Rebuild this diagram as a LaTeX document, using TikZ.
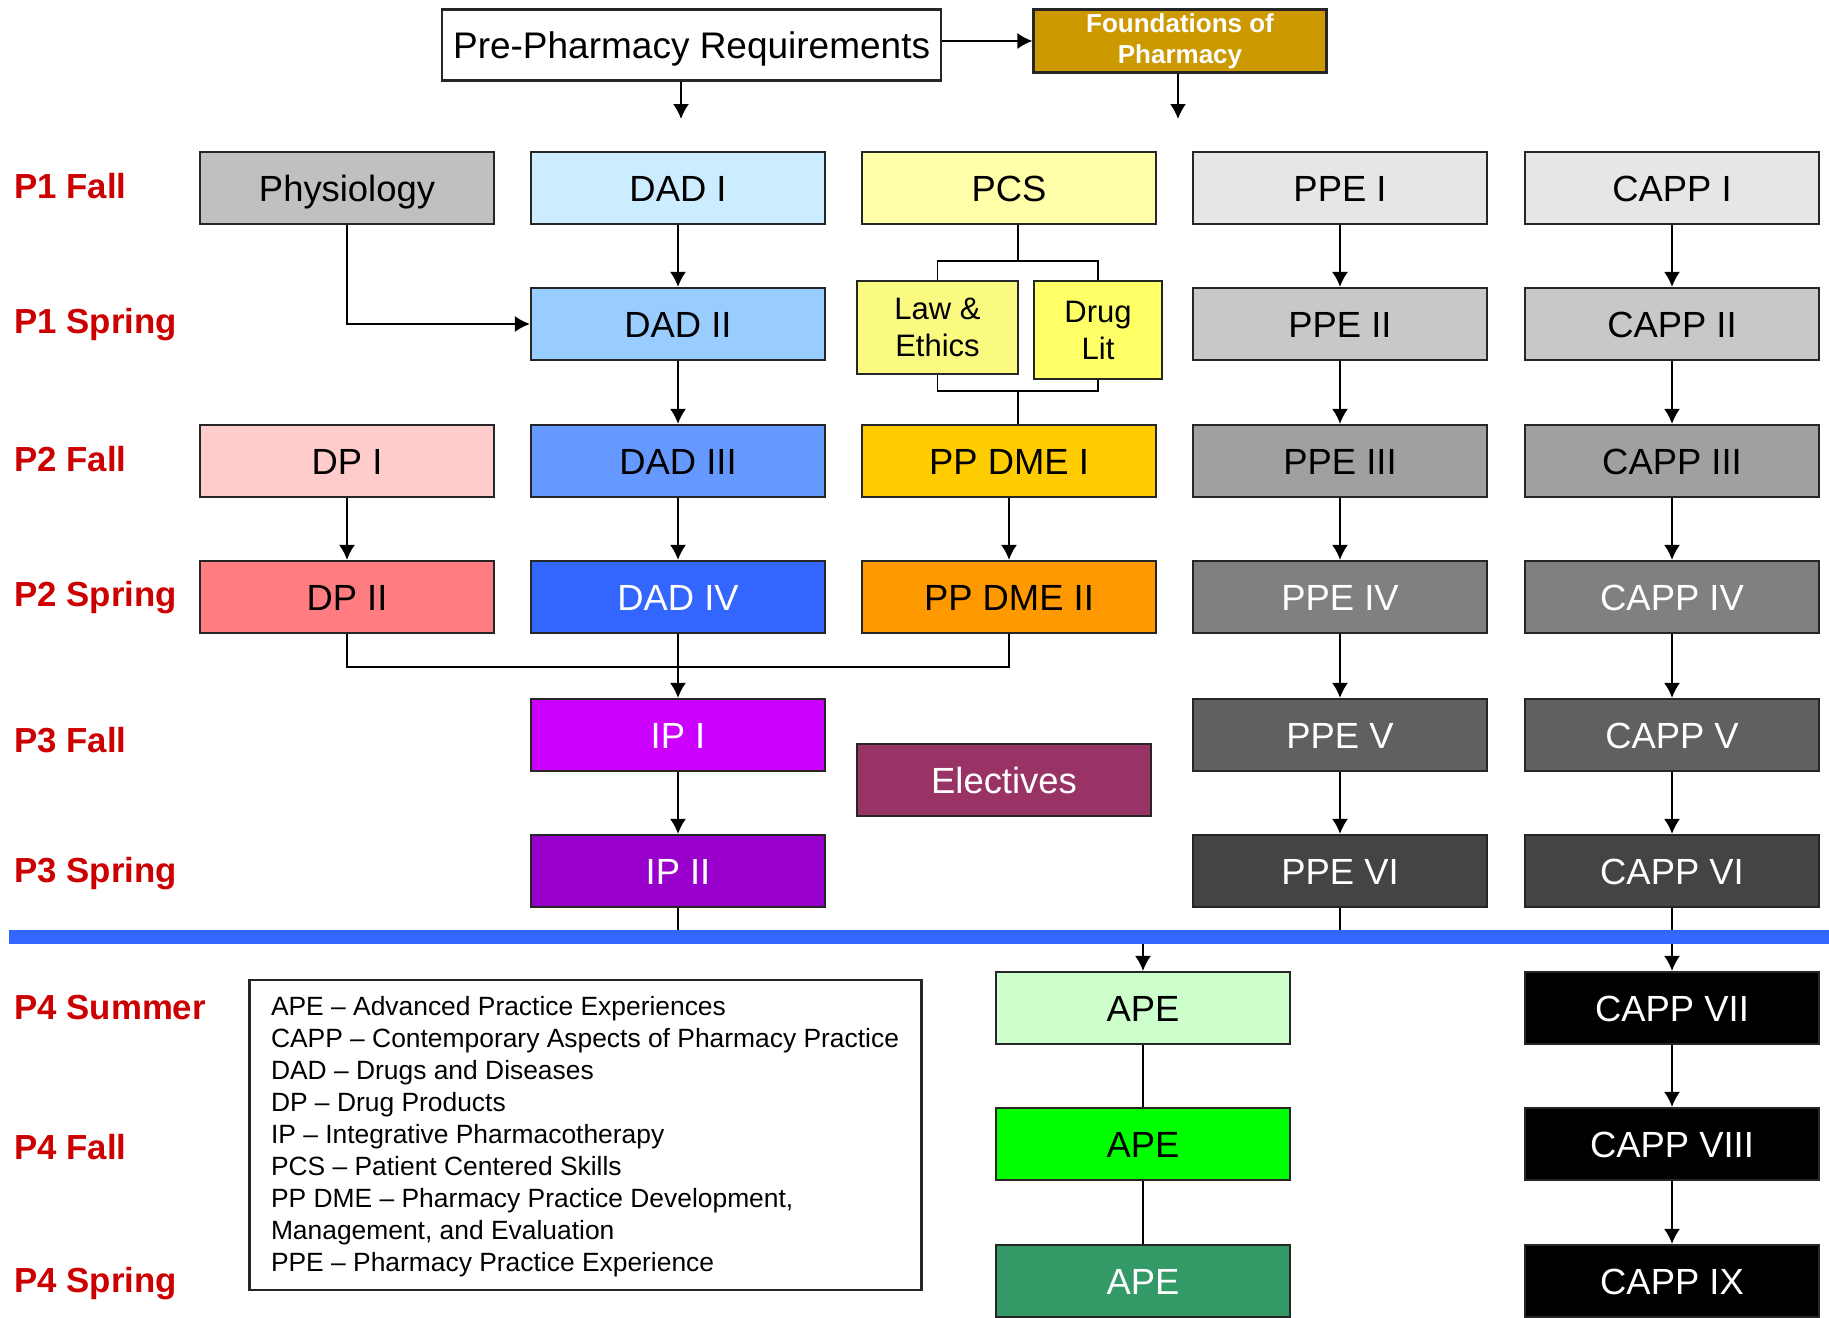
\documentclass[tikz,border=0pt]{standalone}
\usepackage{fontspec}
\setmainfont{Liberation Sans}
\usetikzlibrary{arrows.meta}
\definecolor{cPhys}{HTML}{C0C0C0}
\definecolor{cDADa}{HTML}{CCECFF}
\definecolor{cDADb}{HTML}{99CCFF}
\definecolor{cDADc}{HTML}{6699FF}
\definecolor{cDADd}{HTML}{3366FF}
\definecolor{cPCS}{HTML}{FFFFAA}
\definecolor{cLaw}{HTML}{FAFA80}
\definecolor{cDrug}{HTML}{FFFF66}
\definecolor{cPPa}{HTML}{FFCC00}
\definecolor{cPPb}{HTML}{FF9900}
\definecolor{cDPa}{HTML}{FFCCCC}
\definecolor{cDPb}{HTML}{FF7C80}
\definecolor{cGa}{HTML}{E6E6E6}
\definecolor{cGb}{HTML}{C8C8C8}
\definecolor{cGc}{HTML}{A0A0A0}
\definecolor{cGd}{HTML}{808080}
\definecolor{cGe}{HTML}{606060}
\definecolor{cGf}{HTML}{444444}
\definecolor{cIPa}{HTML}{CC00FF}
\definecolor{cIPb}{HTML}{9900CC}
\definecolor{cElec}{HTML}{993366}
\definecolor{cAPEa}{HTML}{CCFFCC}
\definecolor{cAPEb}{HTML}{00FF00}
\definecolor{cAPEc}{HTML}{339966}
\definecolor{cFound}{HTML}{CC9900}
\definecolor{cBlue}{HTML}{3366FF}
\definecolor{cRed}{HTML}{CC0000}
\begin{document}
\begin{tikzpicture}[x=0.5pt,y=-0.5pt,
  mbox/.style={draw=black!85, line width=1.1pt, minimum width=147pt, minimum height=36pt,
    inner sep=0pt, align=center, font=\fontsize{18.2}{21}\selectfont},
  box/.style={mbox, text height=13pt, text depth=0pt},
  wbox/.style={box, text=white},
  arr/.style={-{Latex[length=7.5pt,width=8pt]}, line width=0.9pt},
  ln/.style={line width=0.9pt},
  sem/.style={anchor=west, inner sep=0pt, text=cRed, font=\bfseries\fontsize{17.4}{20}\selectfont}]
\useasboundingbox (0,0) rectangle (1829,1317);

% top
\node[box, fill=white, minimum width=249.5pt, minimum height=35.5pt,
  font=\fontsize{18.5}{21}\selectfont] (pre) at (691.6,45) {Pre-Pharmacy Requirements};
\node[mbox, fill=cFound, minimum width=146.5pt, minimum height=31.5pt, text=white,
  font=\bfseries\fontsize{13}{15.5}\selectfont] (found) at (1180,41) {Foundations of\\Pharmacy};
\coordinate (preend) at (681,119);
\coordinate (foundend) at (1178,119);

% semester labels
\node[sem] (s1) at (14,186) {P1 Fall};
\node[sem] (s2) at (14,325) {P1 Spring};
\node[sem] (s3) at (14,459) {P2 Fall};
\node[sem] (s4) at (14,598) {P2 Spring};
\node[sem] (s5) at (14,740) {P3 Fall};
\node[sem] (s6) at (14,874) {P3 Spring};
\node[sem] (s7) at (14,1008) {P4 Summer};
\node[sem] (s8) at (14,1147) {P4 Fall};
\node[sem] (s9) at (14,1284) {P4 Spring};

% row 1
\node[box, fill=cPhys] (phys) at (347,188) {Physiology};
\node[box, fill=cDADa] (dad1) at (678,188) {DAD I};
\node[box, fill=cPCS] (pcs) at (1009,188) {PCS};
\node[box, fill=cGa] (ppe1) at (1340,188) {PPE I};
\node[box, fill=cGa] (capp1) at (1672,188) {CAPP I};
% row 2
\node[box, fill=cDADb] (dad2) at (678,324) {DAD II};
\node[mbox, fill=cLaw, minimum width=80.5pt, minimum height=46.5pt,
  font=\fontsize{15.5}{18.5}\selectfont] (law) at (937.5,327.5) {Law \&\\Ethics};
\node[mbox, fill=cDrug, minimum width=64pt, minimum height=49pt,
  font=\fontsize{15.5}{18.5}\selectfont] (drug) at (1098,330) {Drug\\Lit};
\node[box, fill=cGb] (ppe2) at (1340,324) {PPE II};
\node[box, fill=cGb] (capp2) at (1672,324) {CAPP II};
% row 3
\node[box, fill=cDPa] (dp1) at (347,461) {DP I};
\node[box, fill=cDADc] (dad3) at (678,461) {DAD III};
\node[box, fill=cPPa] (pp1) at (1009,461) {PP DME I};
\node[box, fill=cGc] (ppe3) at (1340,461) {PPE III};
\node[box, fill=cGc] (capp3) at (1672,461) {CAPP III};
% row 4
\node[box, fill=cDPb] (dp2) at (347,597) {DP II};
\node[wbox, fill=cDADd] (dad4) at (678,597) {DAD IV};
\node[box, fill=cPPb] (pp2) at (1009,597) {PP DME II};
\node[wbox, fill=cGd] (ppe4) at (1340,597) {PPE IV};
\node[wbox, fill=cGd] (capp4) at (1672,597) {CAPP IV};
% row 5
\node[wbox, fill=cIPa] (ip1) at (678,735) {IP I};
\node[wbox, fill=cElec] (elec) at (1004,780) {Electives};
\node[wbox, fill=cGe] (ppe5) at (1340,735) {PPE V};
\node[wbox, fill=cGe] (capp5) at (1672,735) {CAPP V};
% row 6
\node[wbox, fill=cIPb] (ip2) at (678,871) {IP II};
\node[wbox, fill=cGf] (ppe6) at (1340,871) {PPE VI};
\node[wbox, fill=cGf] (capp6) at (1672,871) {CAPP VI};
% P4
\node[box, fill=cAPEa] (ape1) at (1143,1008) {APE};
\node[box, fill=cAPEb] (ape2) at (1143,1144) {APE};
\node[wbox, fill=cAPEc] (ape3) at (1143,1281) {APE};
\node[wbox, fill=black] (capp7) at (1672,1008) {CAPP VII};
\node[wbox, fill=black] (capp8) at (1672,1144) {CAPP VIII};
\node[wbox, fill=black] (capp9) at (1672,1281) {CAPP IX};

% legend
\node[draw=black!85, line width=1.1pt, minimum width=336pt, minimum height=155pt, inner sep=0pt]
  (legend) at (585.5,1135) {};
\node[anchor=north west, inner sep=0pt, align=left, font=\fontsize{13.2}{16}\selectfont]
  (legtext) at (270.6,996) {APE – Advanced Practice Experiences\\
CAPP – Contemporary Aspects of Pharmacy Practice\\
DAD – Drugs and Diseases\\
DP – Drug Products\\
IP – Integrative Pharmacotherapy\\
PCS – Patient Centered Skills\\
PP DME – Pharmacy Practice Development,\\
Management, and Evaluation\\
PPE – Pharmacy Practice Experience};

% connectors top
\draw[arr] (found.west -| pre.east) -- (found.west);
\draw[arr] (preend |- pre.south) -- (preend);
\draw[arr] (foundend |- found.south) -- (foundend);

\draw[arr] (phys.south) |- (dad2.west);
\draw[arr] (dad1) -- (dad2);
\draw[arr] (dad2) -- (dad3);
\draw[arr] (dad3) -- (dad4);
\draw[arr] (dad4) -- (ip1);
\draw[arr] (ip1) -- (ip2);
\draw[arr] (dp1) -- (dp2);
\draw[ln] (dp2.south) -- ++(0,33) -| (pp2.south);
\draw[arr] (pp1) -- (pp2);

\coordinate (tb) at (1018,261);
\coordinate (bb) at (1018,391);
\draw[ln] (tb |- pcs.south) -- (tb);
\draw[ln] (law.north) |- (drug.north |- tb) -- (drug.north);
\draw[ln] (law.south) |- (drug.south |- bb) -- (drug.south);
\draw[ln] (bb) -- (bb |- pp1.north);

\foreach \a/\b in {ppe1/ppe2,ppe2/ppe3,ppe3/ppe4,ppe4/ppe5,ppe5/ppe6,
  capp1/capp2,capp2/capp3,capp3/capp4,capp4/capp5,capp5/capp6,capp7/capp8,capp8/capp9}
  \draw[arr] (\a) -- (\b);

% blue divider
\coordinate (bl) at (9,937);
\coordinate (br) at (1829,937);
\draw[ln] (ip2.south) -- (ip2.south |- bl);
\draw[ln] (ppe6.south) -- (ppe6.south |- bl);
\draw[ln] (capp6.south) -- (capp6.south |- bl);
\draw[arr] (ape1.north |- bl) -- (ape1.north);
\draw[arr] (capp7.north |- bl) -- (capp7.north);
\draw[ln] (ape1) -- (ape2);
\draw[ln] (ape2) -- (ape3);
\draw[cBlue, line width=7pt] (bl) -- (br);
\end{tikzpicture}
\end{document}
